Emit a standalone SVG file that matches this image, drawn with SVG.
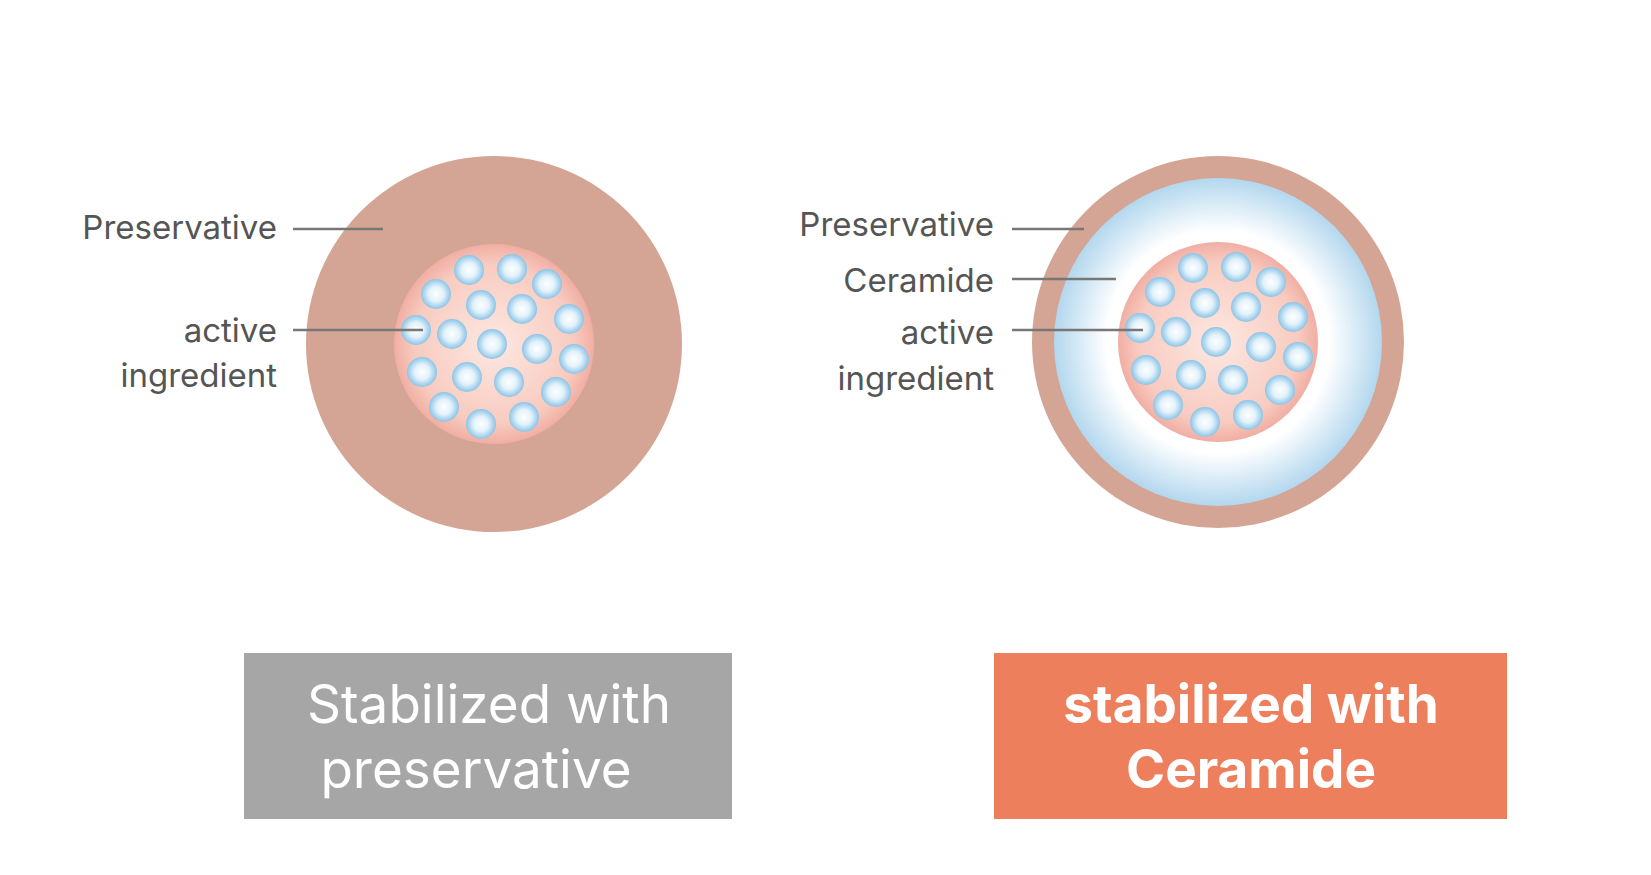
<svg xmlns="http://www.w3.org/2000/svg" xmlns:xlink="http://www.w3.org/1999/xlink" width="1651" height="875" viewBox="0 0 1651 875">
<style>
.lbl{font-family:Inter,"Liberation Sans",sans-serif;font-size:33px;fill:#555}
.btn{font-family:Inter,"Liberation Sans",sans-serif;font-size:53px;fill:#fff;text-anchor:middle}
.ln{stroke:#777;stroke-width:2.5}
</style>
<defs>
<radialGradient id="bub" cx="0.5" cy="0.5" r="0.5"><stop offset="0" stop-color="#fff"/><stop offset="0.5" stop-color="#e3f2fb"/><stop offset="1" stop-color="#8cc4e6"/></radialGradient>
<radialGradient id="core" cx="0.5" cy="0.5" r="0.5"><stop offset="0" stop-color="#fde8e2"/><stop offset="0.8" stop-color="#f8cbc0"/><stop offset="1" stop-color="#f1aea3"/></radialGradient>
<radialGradient id="cer" cx="0.5" cy="0.5" r="0.5"><stop offset="0.68" stop-color="#fff"/><stop offset="1" stop-color="#b3d7ee"/></radialGradient>
<g id="bubbles">
<circle cx="-25" cy="-74" r="15"/><circle cx="18" cy="-75" r="15"/><circle cx="53" cy="-60" r="15"/><circle cx="-58" cy="-50" r="15"/><circle cx="-13" cy="-39" r="15"/><circle cx="28" cy="-35" r="15"/><circle cx="75" cy="-25" r="15"/><circle cx="-78" cy="-14" r="15"/><circle cx="-42" cy="-10" r="15"/><circle cx="-2" cy="0" r="15"/><circle cx="43" cy="5" r="15"/><circle cx="80" cy="15" r="15"/><circle cx="-72" cy="28" r="15"/><circle cx="-27" cy="33" r="15"/><circle cx="15" cy="38" r="15"/><circle cx="62" cy="48" r="15"/><circle cx="-50" cy="63" r="15"/><circle cx="-13" cy="80" r="15"/><circle cx="30" cy="73" r="15"/>
</g>
</defs>
<rect width="1651" height="875" fill="#fff"/>
<g id="left">
<circle cx="494" cy="344" r="188" fill="#d4a594"/>
<circle cx="494" cy="344" r="100" fill="url(#core)"/>
<use xlink:href="#bubbles" transform="translate(494,344)" fill="url(#bub)"/>
<text class="lbl" x="277" y="239" text-anchor="end">Preservative</text>
<text class="lbl" x="277" y="342" text-anchor="end">active</text>
<text class="lbl" x="277" y="387" text-anchor="end">ingredient</text>
</g>
<g id="right">
<circle cx="1218" cy="342" r="186" fill="#d4a594"/>
<circle cx="1218" cy="342" r="164" fill="url(#cer)"/>
<circle cx="1218" cy="342" r="100" fill="url(#core)"/>
<use xlink:href="#bubbles" transform="translate(1218,342)" fill="url(#bub)"/>
<text class="lbl" x="994" y="236" text-anchor="end">Preservative</text>
<text class="lbl" x="994" y="292" text-anchor="end">Ceramide</text>
<text class="lbl" x="994" y="344" text-anchor="end">active</text>
<text class="lbl" x="994" y="390" text-anchor="end">ingredient</text>
</g>
<g id="connectors">
<line class="ln" x1="293" y1="229" x2="383" y2="229"/>
<line class="ln" x1="293" y1="330" x2="423" y2="330"/>
<line class="ln" x1="1012" y1="229" x2="1084" y2="229"/>
<line class="ln" x1="1012" y1="279" x2="1116" y2="279"/>
<line class="ln" x1="1012" y1="330" x2="1143" y2="330"/>
</g>
<g id="box1">
<rect x="244" y="653" width="488" height="166" fill="#a6a6a6"/>
<text class="btn" x="489" y="723">Stabilized with</text>
<text class="btn" x="476" y="788">preservative</text>
</g>
<g id="box2">
<rect x="994" y="653" width="513" height="166" fill="#ee7f5c"/>
<text class="btn" x="1251" y="723" font-weight="bold">stabilized with</text>
<text class="btn" x="1251" y="788" font-weight="bold">Ceramide</text>
</g>
</svg>
